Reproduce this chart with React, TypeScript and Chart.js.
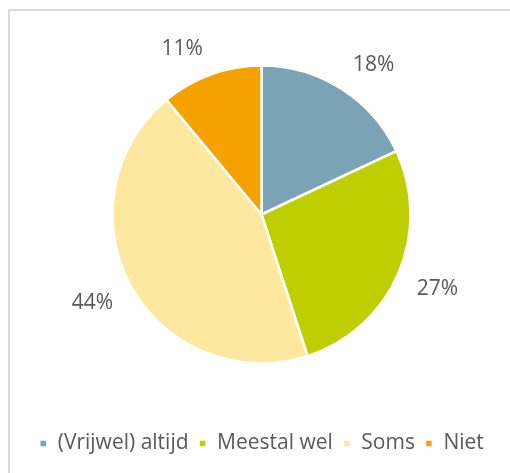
import React, { useEffect, useRef } from "react";
import { Chart, registerables } from "chart.js";

Chart.register(...registerables);

const categories = ["(Vrijwel) altijd", "Meestal wel", "Soms", "Niet"];
const values = [18, 27, 44, 11];
const colors = ["#7AA4B6", "#BFCE00", "#FEE8A0", "#F5A100"];

const framePlugin = {
  id: "frame",
  beforeDraw(chart: any) {
    const ctx = chart.ctx;
    ctx.save();
    ctx.fillStyle = "#ffffff";
    ctx.fillRect(0, 0, chart.width, chart.height);
    ctx.strokeStyle = "#D9D9D9";
    ctx.lineWidth = 2;
    ctx.beginPath();
    ctx.moveTo(9, chart.height + 2);
    ctx.lineTo(9, 10);
    ctx.lineTo(chart.width + 2, 10);
    ctx.stroke();
    ctx.restore();
  },
};

// Excel-like "outside end" labels: anchored just outside the rim at mid-angle,
// with the text box pushed away from the pie.
const labelPlugin = {
  id: "pctLabels",
  afterDatasetsDraw(chart: any) {
    const ctx = chart.ctx;
    const meta = chart.getDatasetMeta(0);
    ctx.save();
    ctx.font = '21px "Open Sans"';
    ctx.fillStyle = "#595959";
    ctx.textAlign = "center";
    ctx.textBaseline = "middle";
    meta.data.forEach((arc: any, i: number) => {
      const p = arc.getProps(["x", "y", "startAngle", "endAngle", "outerRadius"], true);
      const mid = (p.startAngle + p.endAngle) / 2;
      const r = p.outerRadius + 18;
      const dx = Math.cos(mid);
      const dy = Math.sin(mid);
      const text = values[i] + "%";
      const w = ctx.measureText(text).width;
      const x = p.x + dx * r + Math.sign(dx) * (w / 2 + 2);
      const y = p.y + dy * r + Math.sign(dy) * 8;
      ctx.fillText(text, x, y);
    });
    ctx.restore();
  },
};

export default function App() {
  const ref = useRef<HTMLCanvasElement>(null);
  useEffect(() => {
    const chart = new Chart(ref.current!, {
      type: "pie",
      data: {
        labels: categories,
        datasets: [
          {
            data: values,
            backgroundColor: colors,
            borderColor: "#ffffff",
            borderWidth: 2.5,
          },
        ],
      },
      options: {
        responsive: false,
        animation: false,
        radius: 149,
        layout: { padding: { left: 13, right: 0, top: 6, bottom: 9 } },
        plugins: {
          legend: {
            position: "bottom",
            labels: {
              boxWidth: 8,
              boxHeight: 8,
              padding: 10,
              color: "#595959",
              font: { family: "Open Sans", size: 21 },
            },
          },
          tooltip: { enabled: false },
        },
      } as any,
      plugins: [framePlugin, labelPlugin],
    });
    return () => chart.destroy();
  }, []);
  return (
    <div style={{ position: "fixed", left: 0, top: 0, width: 510, height: 473 }}>
      <canvas ref={ref} width={510} height={473} style={{ display: "block" }} />
    </div>
  );
}
